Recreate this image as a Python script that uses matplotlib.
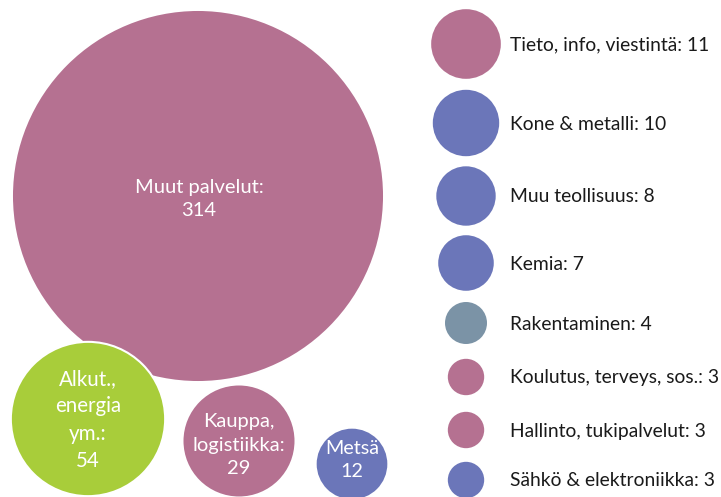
import matplotlib.pyplot as plt
from matplotlib.patches import Circle
import numpy as np

# data
main_labels = ["Muut palvelut:", "Alkut.,\nenergia\nym.:", "Kauppa,\nlogistiikka:", "Metsä"]
main_values = [314, 54, 29, 12]
main_colors = ["#b57191", "#a8cd3a", "#b57191", "#6b76b9"]

legend_labels = ["Tieto, info, viestintä", "Kone & metalli", "Muu teollisuus", "Kemia",
                 "Rakentaminen", "Koulutus, terveys, sos.", "Hallinto, tukipalvelut",
                 "Sähkö & elektroniikka"]
legend_values = [11, 10, 8, 7, 4, 3, 3, 3]
legend_colors = ["#b57191", "#6b76b9", "#6b76b9", "#6b76b9", "#7b93a6",
                 "#b57191", "#b57191", "#6b76b9"]

# layout (pixel space)
scale = 10.5  # radius per sqrt(value)
main_centers = [(198, 196), (88, 419), (239, 441), (352, 464)]
text_pos = [(199, 199), (88, 420), (239, 445), (352, 460)]
text_size = [14.5, 14.8, 14.5, 14.2]
legend_x = 466
legend_y = [44, 123, 196, 263, 323, 377, 430, 480]
text_x = 510

plt.rcParams['font.family'] = ['Lato', 'DejaVu Sans']

fig = plt.figure(figsize=(7.21, 4.97), dpi=100)
ax = fig.add_axes([0, 0, 1, 1])
ax.set_xlim(0, 721)
ax.set_ylim(497, 0)
ax.set_aspect('equal')
ax.axis('off')

for i, (lab, v, c) in enumerate(zip(main_labels, main_values, main_colors)):
    r = scale * np.sqrt(v)
    ax.add_patch(Circle(main_centers[i], r, facecolor=c, edgecolor='white', lw=1.5, zorder=2 + i))
    tx, ty = text_pos[i]
    ax.text(tx, ty, "%s\n%d" % (lab, v), color='white', ha='center', va='center',
            fontsize=text_size[i], linespacing=1.45, zorder=10)

for lab, v, c, y in zip(legend_labels, legend_values, legend_colors, legend_y):
    r = scale * np.sqrt(v)
    ax.add_patch(Circle((legend_x, y), r, facecolor=c, edgecolor='none'))
    ax.text(text_x, y + 1, "%s: %d" % (lab, v), color='#1a1a1a', ha='left', va='center',
            fontsize=13.9)

fig.savefig('out.png', dpi=100)
